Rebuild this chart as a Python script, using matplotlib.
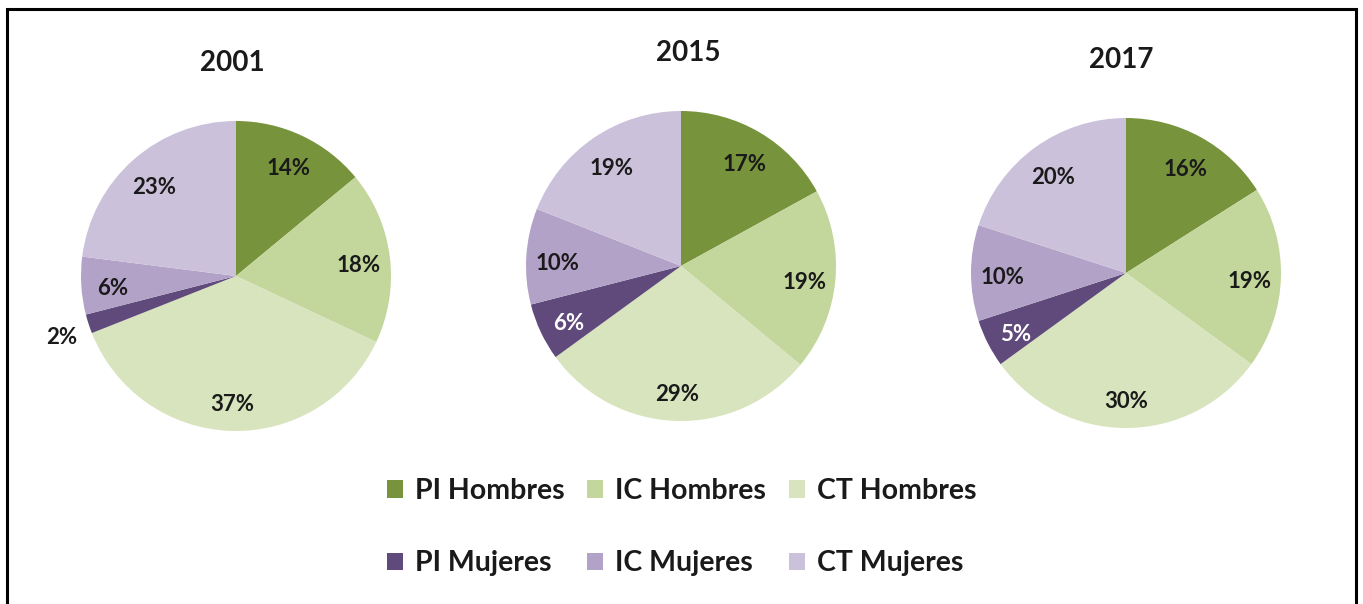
import matplotlib.pyplot as plt
from matplotlib.patches import Patch
import numpy as np

plt.rcParams['font.family'] = ['Lato', 'DejaVu Sans']
plt.rcParams['font.weight'] = 'bold'

years = ["2001", "2015", "2017"]
categories = ["PI Hombres", "IC Hombres", "CT Hombres",
              "PI Mujeres", "IC Mujeres", "CT Mujeres"]
shares_2001 = [14, 18, 37, 2, 6, 23]
shares_2015 = [17, 19, 29, 6, 10, 19]
shares_2017 = [16, 19, 30, 5, 10, 20]
all_shares = [shares_2001, shares_2015, shares_2017]

colors = ["#77933C", "#C3D69B", "#D7E4BD", "#604A7B", "#B3A2C7", "#CCC1DA"]

H = 604
# layout in pixels, measured from the top of the image
centers = [(236, 276), (681, 266), (1126, 273)]
titles_xy = [(232, 63), (688, 53), (1121, 60)]
radius = 155

fig = plt.figure(figsize=(13.63, 6.04), dpi=100)
ax = fig.add_axes([0, 0, 1, 1])
ax.set_xlim(0, 1363)
ax.set_ylim(0, H)
ax.set_aspect('equal')
ax.axis('off')

# frame (bottom edge is cut off in the original)
ax.plot([7, 7, 1356, 1356], [-10, H - 9, H - 9, -10], color='black', lw=2.2,
        solid_joinstyle='miter')

for shares, c, t, year in zip(all_shares, centers, titles_xy, years):
    cx, cy = c[0], H - c[1]
    wedges, texts, autotexts = ax.pie(
        shares, colors=colors, startangle=90, counterclock=False,
        center=(cx, cy), radius=radius, autopct='%d%%', pctdistance=0.79,
        wedgeprops=dict(linewidth=0),
        textprops=dict(fontsize=16, fontweight='bold', color='#1a1a1a'))
    for w, at, v in zip(wedges, autotexts, shares):
        theta = np.deg2rad((w.theta1 + w.theta2) / 2)
        d = 1.18 if v <= 2 else 0.80
        at.set_position((cx + d * radius * np.cos(theta),
                         cy + d * radius * np.sin(theta) - 5))
    if shares[3] > 2:
        autotexts[3].set_color('white')
    ax.text(t[0], H - t[1], year, ha='center', va='center', fontsize=20,
            fontweight='bold', color='#1a1a1a')

ax.set_xlim(0, 1363)
ax.set_ylim(0, H)

handles = [Patch(facecolor=col, edgecolor='none') for col in colors]
order = [0, 3, 1, 4, 2, 5]
fig.legend([handles[i] for i in order], [categories[i] for i in order],
           ncol=3, loc='center', bbox_to_anchor=(0.5, 0.127), frameon=False,
           prop=dict(size=20.5, weight='bold'), handlelength=0.56,
           handleheight=0.56, handletextpad=0.42, columnspacing=0.8,
           labelspacing=1.62, labelcolor='#1a1a1a')

fig.savefig('out.png', dpi=100)
